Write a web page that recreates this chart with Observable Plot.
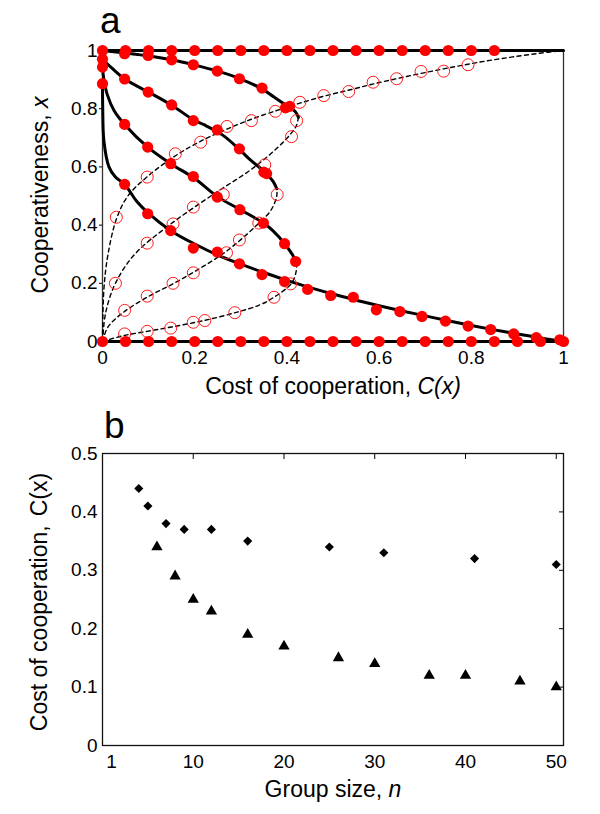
<!DOCTYPE html>
<html><head><meta charset="utf-8">
<script src="https://cdn.jsdelivr.net/npm/d3@7"></script>
<script src="https://cdn.jsdelivr.net/npm/@observablehq/plot@0.6"></script>
<style>
html,body{margin:0;padding:0;background:#fff;}
#wrap{position:relative;width:600px;height:814px;overflow:hidden;}
#wrap svg{display:block;position:absolute;left:0;}
</style></head><body><div id="wrap"></div>
<script>
// ---------- Panel a: theoretical branches, points as [C, x] ----------
const stableTop = [[0,1],[1,1]];
const stableBottom = [[0,0],[1,0]];
const unstableA = [[0,0],[0.007,0.1],[0.028,0.2],[0.07,0.3],[0.145,0.4],[0.235,0.5],[0.33,0.6],[0.395,0.69],[0.42,0.74],[0.425,0.77]];
const stableA = [[0.425,0.77],[0.418,0.79],[0.40,0.81],[0.372,0.84],[0.346,0.868],[0.30,0.902],[0.25,0.929],[0.197,0.951],[0.15,0.968],[0.1,0.981],[0.05,0.991],[0,1]];
const unstableB = [[0,0],[0.012,0.05],[0.045,0.1],[0.1,0.155],[0.155,0.2],[0.21,0.25],[0.26,0.3],[0.3,0.35],[0.338,0.405],[0.365,0.45],[0.378,0.5],[0.378,0.525]];
const stableB = [[0.378,0.525],[0.37,0.55],[0.35,0.585],[0.32,0.625],[0.297,0.66],[0.26,0.71],[0.22,0.745],[0.197,0.762],[0.15,0.812],[0.1,0.857],[0.05,0.9],[0.02,0.94],[0,0.97]];
const unstableC = [[0,0],[0.045,0.02],[0.097,0.035],[0.15,0.05],[0.22,0.072],[0.29,0.1],[0.34,0.125],[0.372,0.152],[0.41,0.2],[0.42,0.24],[0.421,0.265]];
const stableC = [[0.421,0.265],[0.415,0.29],[0.395,0.336],[0.37,0.38],[0.349,0.407],[0.3,0.452],[0.25,0.497],[0.2,0.56],[0.148,0.611],[0.098,0.668],[0.048,0.746],[0.025,0.794],[0.01,0.85],[0.003,0.9],[0,0.943]];
const stableD = [[0,0.886],[0.0005,0.8],[0.003,0.69],[0.014,0.6],[0.028,0.565],[0.048,0.54],[0.075,0.48],[0.1,0.44],[0.148,0.381],[0.2,0.335],[0.25,0.297],[0.3,0.266],[0.35,0.237],[0.4,0.21],[0.45,0.185],[0.5,0.163],[0.55,0.142],[0.6,0.123],[0.65,0.105],[0.7,0.088],[0.75,0.071],[0.8,0.055],[0.85,0.04],[0.9,0.026],[0.95,0.012],[1,0]];
const unstableE = [[0,0],[0.001,0.1],[0.004,0.2],[0.012,0.3],[0.03,0.42],[0.055,0.5],[0.1,0.57],[0.16,0.64],[0.215,0.69],[0.27,0.73],[0.325,0.765],[0.38,0.795],[0.43,0.82],[0.485,0.845],[0.54,0.866],[0.59,0.886],[0.64,0.904],[0.69,0.921],[0.74,0.937],[0.79,0.952],[0.84,0.966],[0.89,0.978],[0.945,0.99],[1,1]];

// ---------- Panel a: simulation results [C, x] ----------
const simStableTopC = [0,0.05,0.1,0.15,0.2,0.25,0.3,0.35,0.4,0.45,0.5,0.55,0.6,0.65,0.7,0.75,0.8,0.85];
const simStableBottomC = [0,0.05,0.1,0.15,0.2,0.25,0.3,0.35,0.4,0.45,0.5,0.55,0.6,0.65,0.7,0.75,0.8,0.85,0.9,0.95,1];
const simStableA = [[0.048,0.989],[0.099,0.983],[0.15,0.968],[0.197,0.951],[0.249,0.929],[0.297,0.903],[0.346,0.871],[0.397,0.803],[0.406,0.808]];
const simStableB = [[0,0.97],[0.048,0.902],[0.099,0.857],[0.15,0.813],[0.197,0.759],[0.249,0.727],[0.297,0.662],[0.35,0.582],[0.356,0.577]];
const simStableC = [[0,0.943],[0.048,0.746],[0.098,0.668],[0.148,0.611],[0.197,0.567],[0.249,0.496],[0.298,0.453],[0.349,0.407],[0.395,0.336],[0.419,0.275]];
const simStableD = [[0,0.886],[0.048,0.54],[0.098,0.439],[0.148,0.381],[0.197,0.321],[0.249,0.307],[0.297,0.267],[0.346,0.23],[0.395,0.206],[0.445,0.179],[0.495,0.158],[0.544,0.152],[0.594,0.109],[0.645,0.103],[0.693,0.086],[0.744,0.07],[0.793,0.053],[0.842,0.041],[0.892,0.026],[0.941,0.013],[0.992,0.006]];
const simUnstableE = [[0.03,0.427],[0.097,0.565],[0.158,0.645],[0.213,0.685],[0.27,0.739],[0.323,0.759],[0.375,0.791],[0.428,0.822],[0.48,0.845],[0.534,0.859],[0.587,0.891],[0.638,0.903],[0.691,0.928],[0.74,0.929],[0.793,0.951]];
const simUnstableA = [[0.028,0.2],[0.097,0.338],[0.153,0.404],[0.197,0.462],[0.262,0.505],[0.352,0.607],[0.41,0.704],[0.421,0.759]];
const simUnstableB = [[0.048,0.107],[0.097,0.156],[0.153,0.2],[0.197,0.236],[0.269,0.305],[0.297,0.349],[0.339,0.407],[0.379,0.505]];
const simUnstableC = [[0.048,0.026],[0.097,0.035],[0.148,0.046],[0.197,0.066],[0.222,0.072],[0.287,0.099],[0.372,0.152],[0.408,0.198]];

const ticksA_x = [0,0.2,0.4,0.6,0.8,1];
const ticksA_y = [0,0.2,0.4,0.6,0.8,1];

// ---------- Panel b ----------
const groupSizeDiamond = [4,5,7,9,12,16,25,31,41,50];
const costDiamond = [0.44,0.41,0.38,0.37,0.37,0.35,0.34,0.33,0.32,0.31];
const groupSizeTriangle = [6,8,10,12,16,20,26,30,36,40,46,50];
const costTriangle = [0.34,0.29,0.25,0.23,0.19,0.17,0.15,0.14,0.12,0.12,0.11,0.10];
const ticksB_x = [1,10,20,30,40,50];
const ticksB_y = [0,0.1,0.2,0.3,0.4,0.5];
const innerTicksB_x = [10,20,30,40,50];
const innerTicksB_y = [0.1,0.2,0.3,0.4];

// ---------- build rows ----------
const toRows = (branches) => Object.entries(branches).flatMap(([k, pts]) => pts.map(([C, x]) => ({k, C, x})));
const solidRows = toRows({top: stableTop, bottom: stableBottom, A: stableA, B: stableB, C: stableC, D: stableD});
const dashedRows = toRows({A: unstableA, B: unstableB, C: unstableC, E: unstableE});
const filledRows = [
  ...simStableTopC.map(C => ({C, x: 1})),
  ...simStableBottomC.map(C => ({C, x: 0})),
  ...toRows({A: simStableA, B: simStableB, C: simStableC, D: simStableD})
];
const openRows = toRows({E: simUnstableE, A: simUnstableA, B: simUnstableB, C: simUnstableC});

const FONT = "'Liberation Sans', Arial, Helvetica, sans-serif";
const fmt = d => `${d}`;
const wrap = document.getElementById("wrap");

const plotA = Plot.plot({
  width: 600, height: 400,
  marginTop: 50, marginRight: 37, marginBottom: 59, marginLeft: 102,
  x: {domain: [0, 1]},
  y: {domain: [0, 1]},
  style: {fontFamily: FONT, fontSize: "19px", color: "#000", background: "transparent"},
  marks: [
    Plot.frame({stroke: "#333", strokeWidth: 1.3}),
    Plot.axisX({ticks: ticksA_x, tickFormat: fmt, tickSize: 0, tickPadding: 9, label: null, fontSize: 19}),
    Plot.axisY({ticks: ticksA_y, tickFormat: fmt, tickSize: 3, tickPadding: 2, label: null, fontSize: 19}),
    Plot.line(dashedRows, {x: "C", y: "x", z: "k", stroke: "#000", strokeWidth: 1.4, strokeDasharray: "4,3.5", curve: "catmull-rom"}),
    Plot.line(solidRows, {x: "C", y: "x", z: "k", stroke: "#000", strokeWidth: 3, curve: "catmull-rom"}),
    Plot.dot(openRows, {x: "C", y: "x", r: 6, stroke: "#ff1a1a", strokeWidth: 1, fill: "none"}),
    Plot.dot(filledRows, {x: "C", y: "x", r: 5.6, fill: "#ff0000", stroke: "none"})
  ]
});
plotA.style.top = "0px";
wrap.appendChild(plotA);

const plotB = Plot.plot({
  width: 600, height: 414,
  marginTop: 53, marginRight: 37, marginBottom: 69, marginLeft: 102,
  x: {domain: [0, 50.8]},
  y: {domain: [0, 0.5]},
  style: {fontFamily: FONT, fontSize: "19px", color: "#000", background: "transparent"},
  marks: [
    Plot.frame({stroke: "#111", strokeWidth: 1.3}),
    Plot.axisX({ticks: ticksB_x, tickFormat: fmt, tickSize: 0, tickPadding: 9, label: null, fontSize: 19}),
    Plot.axisY({ticks: ticksB_y, tickFormat: fmt, tickSize: 0, tickPadding: 5, label: null, fontSize: 19}),
    Plot.axisX({anchor: "top", ticks: innerTicksB_x, tickSize: -5, tickFormat: () => "", label: null}),
    Plot.axisY({anchor: "right", ticks: innerTicksB_y, tickSize: -5, tickFormat: () => "", label: null}),
    Plot.dot(groupSizeDiamond.map((n, i) => ({n, c: costDiamond[i]})), {x: "n", y: "c", symbol: "diamond2", r: 4.1, fill: "#000", stroke: "none"}),
    Plot.dot(groupSizeTriangle.map((n, i) => ({n, c: costTriangle[i]})), {x: "n", y: "c", symbol: "triangle", r: 4.2, fill: "#000", stroke: "none"})
  ]
});
plotB.style.top = "400px";
wrap.appendChild(plotB);

// ---------- titles / labels ----------
function addText(svg, {x, y, size, rotate = 0, anchor = "middle", parts}) {
  const t = d3.select(svg).append("text")
    .attr("transform", `translate(${x},${y}) rotate(${rotate})`)
    .attr("text-anchor", anchor)
    .attr("font-family", FONT)
    .attr("font-size", size)
    .attr("fill", "#000");
  parts.forEach(p => {
    const s = t.append("tspan").text(p.text);
    if (p.italic) s.attr("font-style", "italic");
    if (p.dx) s.attr("dx", p.dx);
  });
}
addText(plotA, {x: 100, y: 33, size: 37, anchor: "start", parts: [{text: "a"}]});
addText(plotA, {x: 333, y: 394, size: 23, parts: [{text: "Cost of cooperation, "}, {text: "C(x)", italic: true}]});
addText(plotA, {x: 48, y: 195, size: 23, rotate: -90, parts: [{text: "Cooperativeness, "}, {text: "x", italic: true}]});

addText(plotB, {x: 104, y: 38, size: 37, anchor: "start", parts: [{text: "b"}]});
addText(plotB, {x: 333, y: 397, size: 23, parts: [{text: "Group size, "}, {text: "n", italic: true}]});
addText(plotB, {x: 47, y: 202, size: 23, rotate: -90, parts: [{text: "Cost of cooperation,"}, {text: "C(x)", dx: 9}]});
</script></body></html>
